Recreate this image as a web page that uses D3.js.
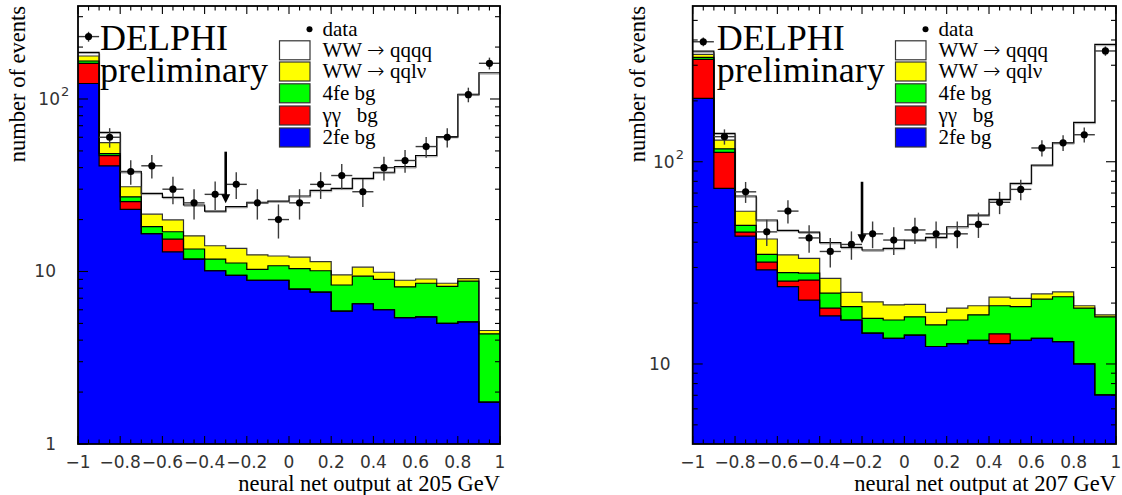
<!DOCTYPE html>
<html><head><meta charset="utf-8">
<script src="https://cdn.jsdelivr.net/npm/d3@7"></script>
<style>body{margin:0;background:#fff} svg{display:block}</style>
</head><body>
<svg id="chart" width="1122" height="495"></svg>
<script>
// ---------- data ----------
const binLow = [-1.0,-0.9,-0.8,-0.7,-0.6,-0.5,-0.4,-0.3,-0.2,-0.1,0.0,0.1,0.2,0.3,0.4,0.5,0.6,0.7,0.8,0.9];
const binWidth = 0.1;
const xTickValues = [-1,-0.8,-0.6,-0.4,-0.2,0,0.2,0.4,0.6,0.8,1];
const xTickLabels = ["\u22121","\u22120.8","\u22120.6","\u22120.4","\u22120.2","0","0.2","0.4","0.6","0.8","1"];
const seriesKeys = ["fe2","gg","fe4","qqlv","qqqq"];
const seriesColors = ["#0000ff","#ff0000","#00ff00","#ffff00","#ffffff"];
// legend label parts: [before arrow, arrow, after arrow]
const legendLabels = [["WW ","\u2192"," qqqq"],["WW ","\u2192"," qqlν"],["4fe bg","",""],["γγ   bg","",""],["2fe bg","",""]];
const legendColors = ["#ffffff","#ffff00","#00ff00","#ff0000","#0000ff"];

// 205 GeV
const data205   = [230,60,38,41,30,25,28,32,25,20,25,32,36,29,40,44,53,60,106,161];
const fe2_205   = [123,41.0,22.9,16.6,13.0,11.8,10.1,9.5,8.9,8.9,7.9,7.6,5.9,6.5,6.0,5.4,5.45,5.0,5.1,1.75];
const gg_205    = [38,5.9,2.5,0,2.4,0,0,0,0,0,0,0,0,0,0,0,0,0,0,0];
const fe4_205   = [5.1,1.3,1.7,1.6,1.6,1.7,1.7,1.7,1.4,1.9,2.5,2.5,2.45,2.9,3.0,2.75,3.1,3.2,3.7,2.6];
const qqlv_205  = [11.4,7.6,3.9,3.3,2.9,2.6,2.3,2.4,2.2,1.5,1.7,1.3,1.2,1.2,0.9,0.75,0.5,0.35,0.3,0.2];
const qqqq_205  = [9.0,8.3,6.9,6.9,7.0,8.2,8.3,10.2,12.7,13.3,15.3,18.1,20.8,24.1,27.7,31.6,38.0,52.0,97.4,137.4];
const cut205    = [-0.3, 49.5, 24.9];   // cut position, arrow from / to (events)

// 207 GeV
const data207   = [392,133,71,45,57,42,36,39,44,41,46,44,44,49,63,73,117,124,136,353];
const fe2_207   = [205.8,73.9,42.9,29.2,24.1,20.7,17.3,16.5,14.2,13.4,13.9,12.2,12.6,13.1,12.6,13.1,13.4,12.9,10.0,7.03];
const gg_207    = [115,37.4,2.0,2.7,1.6,5.3,1.6,0,0,0,0,0,0,0,1.5,0,0,0,0,0];
const fe4_207   = [7.4,4.6,3.6,2.9,2.6,2.1,3.5,2.7,2.6,3.1,3.2,3.4,3.9,4.4,5.3,6.1,7.5,8.6,8.9,10.07];
const qqlv_207  = [11.4,12.1,8.4,6.7,6.3,5.2,4.1,3.4,3.5,3.1,2.6,2.4,2.4,1.9,2.0,1.9,1.3,1.2,0.5,0.4];
const qqqq_207  = [13.0,10.2,10.8,10.0,11.2,11.6,13.3,15.1,16.3,17.7,21.3,24.3,28.8,35.0,43.8,57.1,74.1,101.5,137.2,362.9];
const cut207    = [-0.2, 79.6, 39.5];

// ---------- layout ----------
const panels = [
  {energy:"205", data:data205, comps:[fe2_205,gg_205,fe4_205,qqlv_205,qqqq_205], cut:cut205,
   l:78, r:500, t:6, b:444, yDomain:[1,346], yTitleX:25, textDx:22},
  {energy:"207", data:data207, comps:[fe2_207,gg_207,fe4_207,qqlv_207,qqqq_207], cut:cut207,
   l:692.7, r:1116, t:6, b:444, yDomain:[4.02,589], yTitleX:645, textDx:24}
];

const svg = d3.select("#chart");
const serif = "'Liberation Serif','Times New Roman',serif";
const sans = "'DejaVu Sans',sans-serif";

panels.forEach((p, pi) => {
  const x = d3.scaleLinear().domain([-1, 1]).range([p.l, p.r]);
  const y = d3.scaleLog().domain(p.yDomain).range([p.b, p.t]);
  const n = binLow.length;

  const rows = binLow.map((lo, i) => {
    const o = {lo};
    seriesKeys.forEach((k, j) => o[k] = p.comps[j][i]);
    return o;
  });
  const stacked = d3.stack().keys(seriesKeys)(rows);

  const clipId = "clip" + pi;
  svg.append("clipPath").attr("id", clipId).append("rect")
    .attr("x", p.l).attr("y", p.t).attr("width", p.r - p.l).attr("height", p.b - p.t);
  const g = svg.append("g").attr("clip-path", `url(#${clipId})`);

  const pts = layer => {
    const a = layer.map((d, i) => ({x: binLow[i], v: d[1]}));
    a.push({x: binLow[n - 1] + binWidth, v: layer[n - 1][1]});
    return a;
  };
  const area = d3.area().curve(d3.curveStepAfter)
    .x(d => x(d.x)).y0(p.b).y1(d => y(Math.max(d.v, p.yDomain[0])));
  const line = d3.line().curve(d3.curveStepAfter)
    .x(d => x(d.x)).y(d => y(Math.max(d.v, p.yDomain[0])));

  for (let k = seriesKeys.length - 1; k >= 0; k--) {
    g.append("path").attr("d", area(pts(stacked[k]))).attr("fill", seriesColors[k]);
  }
  // faint grey shadow of total outline
  g.append("path").attr("d", line(pts(stacked[4]))).attr("fill", "none")
    .attr("stroke", "#a0a0a0").attr("stroke-width", 1).attr("transform", "translate(0.6,1.3)");
  for (let k = seriesKeys.length - 1; k >= 0; k--) {
    g.append("path").attr("d", line(pts(stacked[k]))).attr("fill", "none")
      .attr("stroke", k === 3 ? "#333" : "#000").attr("stroke-width", 1.2);
  }

  // data points with errors
  const dg = svg.append("g");
  p.data.forEach((v, i) => {
    const cx = x(binLow[i] + binWidth / 2), cy = y(v), e = Math.sqrt(v);
    dg.append("line").attr("x1", x(binLow[i])).attr("x2", x(binLow[i] + binWidth))
      .attr("y1", cy).attr("y2", cy).attr("stroke", "#3a3a3a").attr("stroke-width", 1.4);
    dg.append("line").attr("x1", cx).attr("x2", cx)
      .attr("y1", y(v + e)).attr("y2", y(Math.max(v - e, p.yDomain[0])))
      .attr("stroke", "#3a3a3a").attr("stroke-width", 1.4);
    dg.append("circle").attr("cx", cx).attr("cy", cy).attr("r", 3.6).attr("fill", "#000");
  });

  // cut arrow
  const ax = x(p.cut[0]), ay1 = y(p.cut[1]), ay2 = y(p.cut[2]);
  svg.append("line").attr("x1", ax).attr("x2", ax).attr("y1", ay1).attr("y2", ay2 - 6)
    .attr("stroke", "#000").attr("stroke-width", 2.6);
  svg.append("path").attr("d", `M${ax - 4.5},${ay2 - 9} L${ax + 4.5},${ay2 - 9} L${ax},${ay2} Z`).attr("fill", "#000");

  // frame
  svg.append("rect").attr("x", p.l).attr("y", p.t).attr("width", p.r - p.l).attr("height", p.b - p.t)
    .attr("fill", "none").attr("stroke", "#000").attr("stroke-width", 1.8);

  // x ticks (bottom and top, inward)
  const ax_g = svg.append("g").attr("stroke", "#000").attr("stroke-width", 1.1);
  d3.range(-1, 1.0001, 0.05).forEach(t => {
    const major = Math.abs(Math.round(t * 5) - t * 5) < 1e-6;
    const len = major ? 8 : 4.5;
    const xx = x(t);
    ax_g.append("line").attr("x1", xx).attr("x2", xx).attr("y1", p.b).attr("y2", p.b - len);
    ax_g.append("line").attr("x1", xx).attr("x2", xx).attr("y1", p.t).attr("y2", p.t + len);
  });
  // y ticks (left & right, inward)
  y.ticks().forEach(t => {
    const lg = Math.log10(t);
    const major = Math.abs(lg - Math.round(lg)) < 1e-6;
    const len = major ? 10 : 5;
    const yy = y(t);
    ax_g.append("line").attr("x1", p.l).attr("x2", p.l + len).attr("y1", yy).attr("y2", yy);
    ax_g.append("line").attr("x1", p.r).attr("x2", p.r - len).attr("y1", yy).attr("y2", yy);
    if (major) {
      const e = Math.round(lg);
      if (e <= 1) {
        svg.append("text").attr("x", p.l - 22).attr("y", yy + 6).attr("text-anchor", "end")
          .attr("font-family", sans).attr("font-size", 17).attr("fill", "#333")
          .text(e === 0 ? "1" : "10");
      } else {
        svg.append("text").attr("x", p.l - 18).attr("y", yy + 6).attr("text-anchor", "end")
          .attr("font-family", sans).attr("font-size", 17).attr("fill", "#333").text("10");
        svg.append("text").attr("x", p.l - 17).attr("y", yy - 3).attr("text-anchor", "start")
          .attr("font-family", sans).attr("font-size", 13).attr("fill", "#333").text(String(e));
      }
    }
  });
  xTickValues.forEach((t, i) => {
    svg.append("text").attr("x", x(t)).attr("y", 467.5).attr("text-anchor", "middle")
      .attr("font-family", sans).attr("font-size", 17).attr("fill", "#333").text(xTickLabels[i]);
  });

  // axis titles
  svg.append("text").attr("x", p.r).attr("y", 491).attr("text-anchor", "end")
    .attr("font-family", serif).attr("font-size", 22.5).attr("fill", "#000")
    .text(`neural net output at ${p.energy} GeV`);
  svg.append("text").attr("transform", `translate(${p.yTitleX},${p.t}) rotate(-90)`)
    .attr("text-anchor", "end").attr("font-family", serif).attr("font-size", 22.5).attr("fill", "#000")
    .text("number of events");

  // DELPHI preliminary
  svg.append("text").attr("x", p.l + p.textDx).attr("y", 50).attr("font-family", serif)
    .attr("font-size", 36).attr("fill", "#000").text("DELPHI");
  svg.append("text").attr("x", p.l + p.textDx).attr("y", 82).attr("font-family", serif)
    .attr("font-size", 36).attr("fill", "#000").text("preliminary");

  // legend
  const lx = p.r - 220.5, tx = p.r - 177.5;
  svg.append("circle").attr("cx", p.r - 190.5).attr("cy", 29.3).attr("r", 3).attr("fill", "#000");
  svg.append("text").attr("x", tx).attr("y", 35.5).attr("font-family", serif).attr("font-size", 21)
    .attr("fill", "#000").text("data");
  const rowsY = [50.3, 71.5, 93.3, 115.5, 137.5];
  legendLabels.forEach((lab, i) => {
    svg.append("rect").attr("x", lx).attr("y", rowsY[i] - 9.5).attr("width", 30.5).attr("height", 19)
      .attr("fill", legendColors[i]).attr("stroke", "#333").attr("stroke-width", 1.2);
    const t = svg.append("text").attr("x", tx).attr("y", rowsY[i] + 6.5).attr("font-family", serif)
      .attr("font-size", 21).attr("fill", "#000").style("white-space", "pre");
    t.append("tspan").text(lab[0]);
    if (lab[1]) {
      t.append("tspan").attr("font-family", sans).attr("font-size", 21).attr("font-weight", 300).text(lab[1]);
      t.append("tspan").text(lab[2]);
    }
  });
});
</script>
</body></html>
